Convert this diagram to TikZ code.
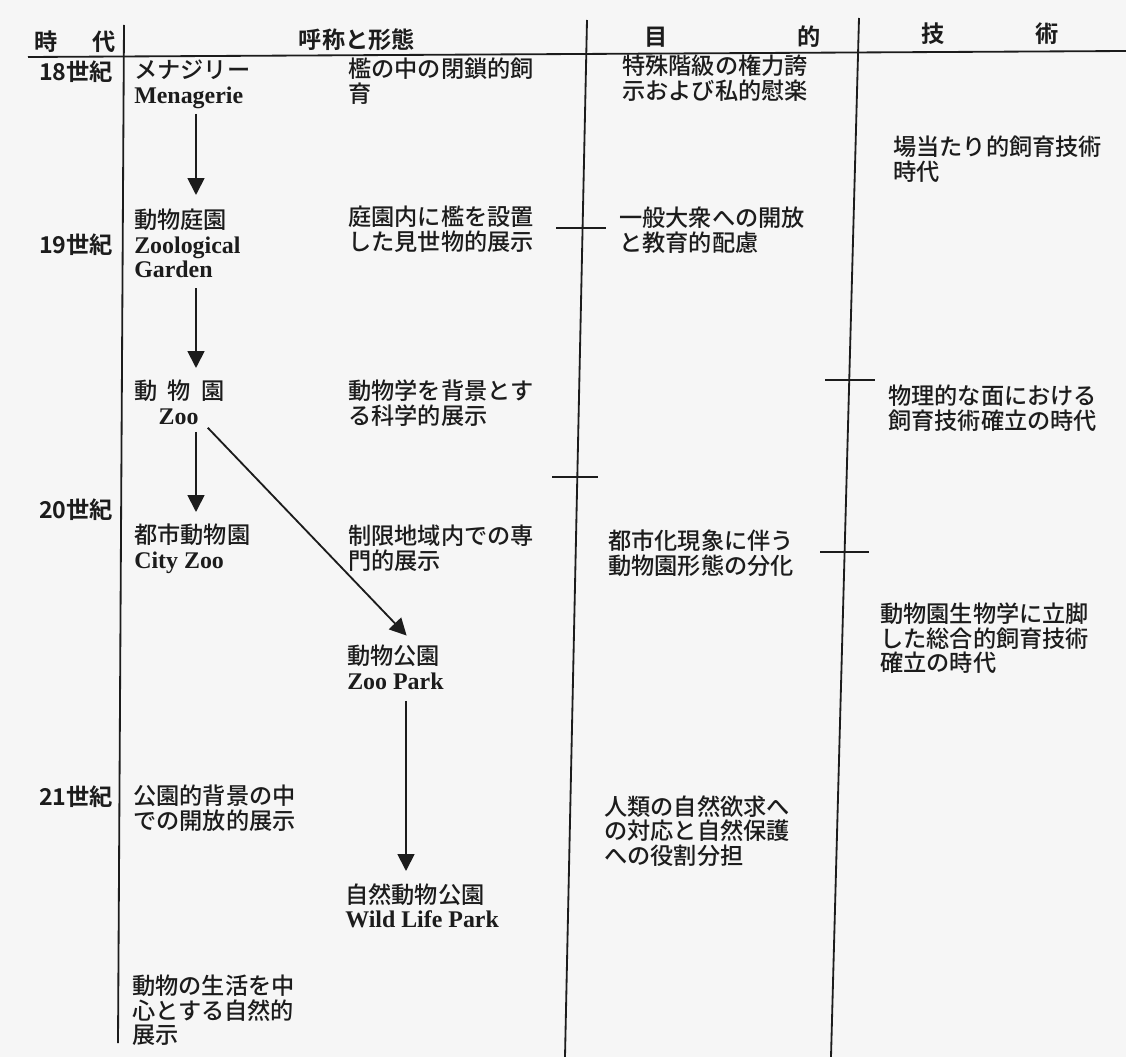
\documentclass[tikz,border=0pt]{standalone}
\usepackage{fontspec}
\setmainfont{Noto Sans CJK JP}[UprightFont={* Medium},BoldFont={* Bold}]
\newfontfamily\lat{Liberation Serif}
\usetikzlibrary{arrows.meta,calc}
\definecolor{ink}{RGB}{28,28,28}
\definecolor{paper}{RGB}{246,246,246}
\newcommand\en[1]{{\lat\bfseries\fontsize{17pt}{17.4pt}\selectfont #1}}
\begin{document}
\begin{tikzpicture}[x=0.025cm,y=-0.025cm,
  txt/.style={anchor=north west,inner sep=0pt,align=left,text=ink,font=\fontsize{16.5pt}{17.4pt}\selectfont},
  hdr/.style={inner sep=0pt,text=ink,font=\bfseries\fontsize{16.5pt}{17.4pt}\selectfont},
  era/.style={anchor=west,inner sep=0pt,text=ink,font=\bfseries\fontsize{16.5pt}{17.4pt}\selectfont},
  rule/.style={draw=ink,line width=1.3pt},
  tick/.style={draw=ink,line width=1.1pt},
  arr/.style={draw=ink,line width=1.3pt,-{Triangle[width=12pt,length=12pt]}}]

\fill[paper] (0,0) rectangle (1126,1057);
\useasboundingbox (0,0) rectangle (1126,1057);

% header
\node[hdr] (h1) at (75,42) {時\hspace{1.5em}代};
\node[hdr] (h2) at (357,40) {呼称と形態};
\node[hdr] (h3) at (733,37) {目\hspace{5.6em}的};
\node[hdr] (h4) at (990,34) {技\hspace{3.9em}術};

% rules
\draw[rule] (28,57) -- (1126,51);
\draw[rule] (124,25) -- (118,1043);
\draw[rule] (587,20) -- (565,1057);
\draw[rule] (859,18) -- (831,1057);

% ticks
\draw[tick] (556,228) -- (606,228);
\draw[tick] (552,477) -- (598,477);
\draw[tick] (825,380) -- (875,380);
\draw[tick] (820,552) -- (869,552);

% eras
\node[era] (e18) at (39,72) {18世紀};
\node[era] (e19) at (39,245) {19世紀};
\node[era] (e20) at (39,510) {20世紀};
\node[era] (e21) at (39,797) {21世紀};

% names
\node[txt] (men) at (134,60) {メナジリー\\\en{Menagerie}};
\node[txt] (zg) at (134,209) {動物庭園\\\en{Zoological}\\\en{Garden}};
\node[txt] (zoo) at (134,380) {動\hspace{0.45em}物\hspace{0.45em}園\\\hspace{1.05em}\en{Zoo}};
\node[txt] (city) at (134,524) {都市動物園\\\en{City Zoo}};
\node[txt] (l21) at (133,785) {公園的背景の中\\での開放的展示};
\node[txt] (l21b) at (132,975) {動物の生活を中\\心とする自然的\\展示};

% forms
\node[txt] (d18) at (348,58) {檻の中の閉鎖的飼\\育};
\node[txt] (d19) at (348,206) {庭園内に檻を設置\\した見世物的展示};
\node[txt] (dzoo) at (348,380) {動物学を背景とす\\る科学的展示};
\node[txt] (d20) at (348,525) {制限地域内での専\\門的展示};
\node[txt] (zp) at (347,645) {動物公園\\\en{Zoo Park}};
\node[txt] (wlp) at (345,883) {自然動物公園\\\en{Wild Life Park}};

% purposes
\node[txt] (p18) at (622,55) {特殊階級の権力誇\\示および私的慰楽};
\node[txt] (p19) at (619,207) {一般大衆への開放\\と教育的配慮};
\node[txt] (p20) at (608,530) {都市化現象に伴う\\動物園形態の分化};
\node[txt] (p21) at (604,795) {人類の自然欲求へ\\の対応と自然保護\\への役割分担};

% techniques
\node[txt] (t1) at (893,136) {場当たり的飼育技術\\時代};
\node[txt] (t2) at (888,385) {物理的な面における\\飼育技術確立の時代};
\node[txt] (t3) at (880,603) {動物園生物学に立脚\\した総合的飼育技術\\確立の時代};

% arrows
\coordinate (xa) at (196,0);
\coordinate (xd) at (205,0);
\coordinate (xe) at (408,0);
\coordinate (xb) at (406,0);
\draw[arr,shorten <=0.125cm,shorten >=0.05cm] (men.south -| xa) -- ($(zg.north -| xa)+(0,-12)$);
\draw[arr,shorten <=0.25cm,shorten >=0.05cm] (zg.south -| xa) -- ($(zoo.north -| xa)+(0,-10)$);
\draw[arr,shorten <=0.175cm,shorten >=0.05cm] (zoo.south -| xa) -- ($(city.north -| xa)+(0,-10)$);
\draw[arr,shorten <=0.1cm,shorten >=0.05cm] (zoo.south -| xd) -- ($(zp.north -| xe)+(0,-8)$);
\draw[arr,shorten <=0.275cm,shorten >=0.05cm] (zp.south -| xb) -- ($(wlp.north -| xb)+(0,-10)$);
\end{tikzpicture}
\end{document}
